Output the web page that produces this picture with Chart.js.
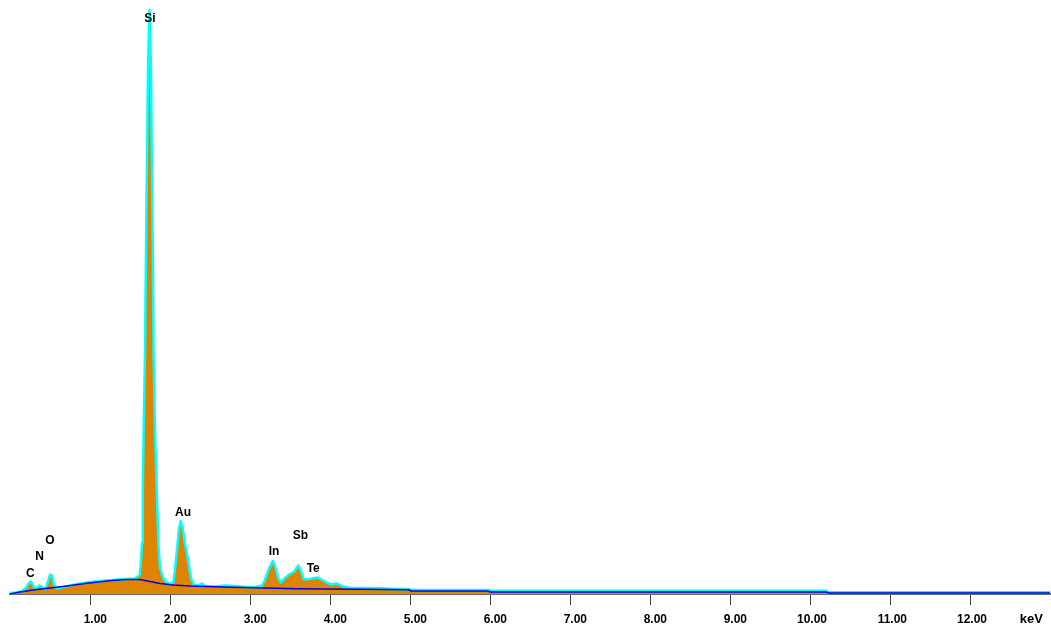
<!DOCTYPE html>
<html>
<head>
<meta charset="utf-8">
<title>Espectro EDS</title>
<script src="https://cdn.jsdelivr.net/npm/chart.js@4.4.1/dist/chart.umd.min.js"></script>
<style>
  html, body { margin: 0; padding: 0; background: #fff; }
  canvas { display: block; }
</style>
</head>
<body>
<canvas id="espectro" width="1051" height="630"></canvas>
<script>
// energia (keV) e contagens do espectro medido
var energias = [0.00, 0.075, 0.15, 0.20, 0.24, 0.26, 0.28, 0.31, 0.34, 0.37, 0.40, 0.44,
    0.47, 0.50, 0.525, 0.55, 0.59, 0.65, 0.75, 0.875, 1.00, 1.125, 1.275, 1.44, 1.5625,
    1.6225, 1.638, 1.650, 1.660, 1.671, 1.688, 1.700, 1.713, 1.725, 1.744, 1.762, 1.772,
    1.785, 1.794, 1.812, 1.834, 1.854, 1.875, 1.9125, 1.95, 1.9875,
    2.044, 2.069, 2.11, 2.134, 2.156, 2.181, 2.219, 2.244, 2.269, 2.30, 2.35, 2.394,
    2.4375, 2.5625, 2.6875, 2.8125, 2.9375, 3.0625, 3.15,
    3.1875, 3.23, 3.284, 3.32, 3.35, 3.3875, 3.4375, 3.50, 3.55, 3.604, 3.6375, 3.669,
    3.7125, 3.775, 3.85, 3.90, 3.9625, 4.025, 4.0875, 4.1625, 4.25, 4.4375, 4.625, 4.8125,
    4.9875, 5.0125, 5.975, 6.00, 10.20, 10.2375, 13.00];
var contagens = [4, 6, 12, 24, 44, 50, 40, 20, 26, 34, 28, 18,
    44, 78, 72, 36, 20, 26, 34, 42, 48, 52, 56, 60, 62,
    76, 136, 204, 416, 656, 976, 1376, 1756, 2096, 2336, 2096, 1756,
    1376, 976, 656, 416, 204, 104, 64, 48, 40,
    48, 116, 256, 292, 268, 212, 148, 96, 56, 36, 34, 42,
    32, 30, 34, 32, 28, 28, 34,
    56, 96, 132, 104, 64, 46, 64, 80, 88, 114, 92, 60,
    58, 62, 66, 56, 44, 38, 42, 30, 24, 24, 23, 20,
    20, 16, 16, 13, 13, 7, 7];

// fundo (bremsstrahlung) ajustado
var energiasFundo = [0.00, 0.125, 0.2875, 0.50, 0.7125, 0.9375, 1.125, 1.3125, 1.4625,
    1.625, 1.75, 1.875, 2.0375, 2.25, 2.5375, 3.0375, 3.5875, 4.375, 4.9875, 5.0125,
    5.975, 6.00, 10.20, 10.2375, 13.00];
var contagensFundo = [0, 8, 16, 24, 32, 42, 49, 55, 58,
    58, 50, 42, 36, 32, 29, 25, 21, 19, 17, 12,
    12, 8, 8, 4, 4];

// elementos identificados e posicao do rotulo (keV, contagens)
var elementos = ['C', 'N', 'O', 'Si', 'Au', 'In', 'Sb', 'Te'];
var energiasRotulo = [0.254, 0.369, 0.50, 1.75, 2.1625, 3.30, 3.63, 3.79];
var alturasRotulo = [80, 148, 214, 2303, 326, 169, 232, 101];

var marcasEixo = [1, 2, 3, 4, 5, 6, 7, 8, 9, 10, 11, 12];
var unidade = 'keV';

var fonteEixo = 'bold 12px "Liberation Sans", Arial, sans-serif';

function pares(xs, ys) {
    return xs.map(function (x, i) { return { x: x, y: ys[i] }; });
}

var rotulosPlugin = {
    id: 'rotulos',
    afterDatasetsDraw: function (chart) {
        var ctx = chart.ctx;
        var sx = chart.scales.x, sy = chart.scales.y;
        ctx.save();
        ctx.fillStyle = '#000';
        ctx.font = fonteEixo;
        ctx.textAlign = 'center';
        ctx.textBaseline = 'middle';
        for (var i = 0; i < elementos.length; i++) {
            ctx.fillText(elementos[i], sx.getPixelForValue(energiasRotulo[i]), sy.getPixelForValue(alturasRotulo[i]));
        }
        // unidade no fim do eixo
        ctx.font = 'bold 13px "Liberation Sans", Arial, sans-serif';
        ctx.textAlign = 'right';
        ctx.fillText(unidade, chart.chartArea.right - 7, 619);
        ctx.restore();
    }
};

function geraEspectro(idGrafico) {
    var ctx = document.getElementById(idGrafico).getContext('2d');
    window.espectro = new Chart(ctx, {
        type: 'line',
        data: {
            datasets: [{
                label: 'fundo',
                data: pares(energiasFundo, contagensFundo),
                borderColor: '#0000E6',
                borderWidth: 1.5,
                fill: false
            }, {
                label: 'espectro',
                data: pares(energias, contagens),
                borderColor: '#00FFFF',
                borderWidth: 2.5,
                borderJoinStyle: 'round',
                backgroundColor: '#DF8400',
                fill: 'origin'
            }]
        },
        options: {
            responsive: false,
            animation: false,
            layout: { padding: { left: 10, right: 1, top: 0, bottom: 0 } },
            elements: {
                line: { tension: 0 },
                point: { radius: 0 }
            },
            plugins: {
                legend: { display: false },
                tooltip: { enabled: false }
            },
            scales: {
                x: {
                    type: 'linear',
                    min: 0,
                    max: 13,
                    afterBuildTicks: function (scale) {
                        scale.ticks = marcasEixo.map(function (v) { return { value: v }; });
                    },
                    afterFit: function (scale) { scale.height = 36; },
                    grid: {
                        drawOnChartArea: false,
                        drawTicks: true,
                        tickLength: 11,
                        color: '#404040'
                    },
                    border: { display: true, color: '#6e6e6e', width: 2 },
                    ticks: {
                        align: 'end',
                        labelOffset: 17,
                        padding: 7,
                        maxRotation: 0,
                        autoSkip: false,
                        color: '#000',
                        font: { family: '"Liberation Sans", Arial, sans-serif', size: 12, weight: 'bold' },
                        callback: function (v) { return v.toFixed(2); }
                    }
                },
                y: {
                    display: false,
                    min: 0,
                    max: 2376
                }
            }
        },
        plugins: [rotulosPlugin]
    });
}

geraEspectro('espectro');
</script>
</body>
</html>
